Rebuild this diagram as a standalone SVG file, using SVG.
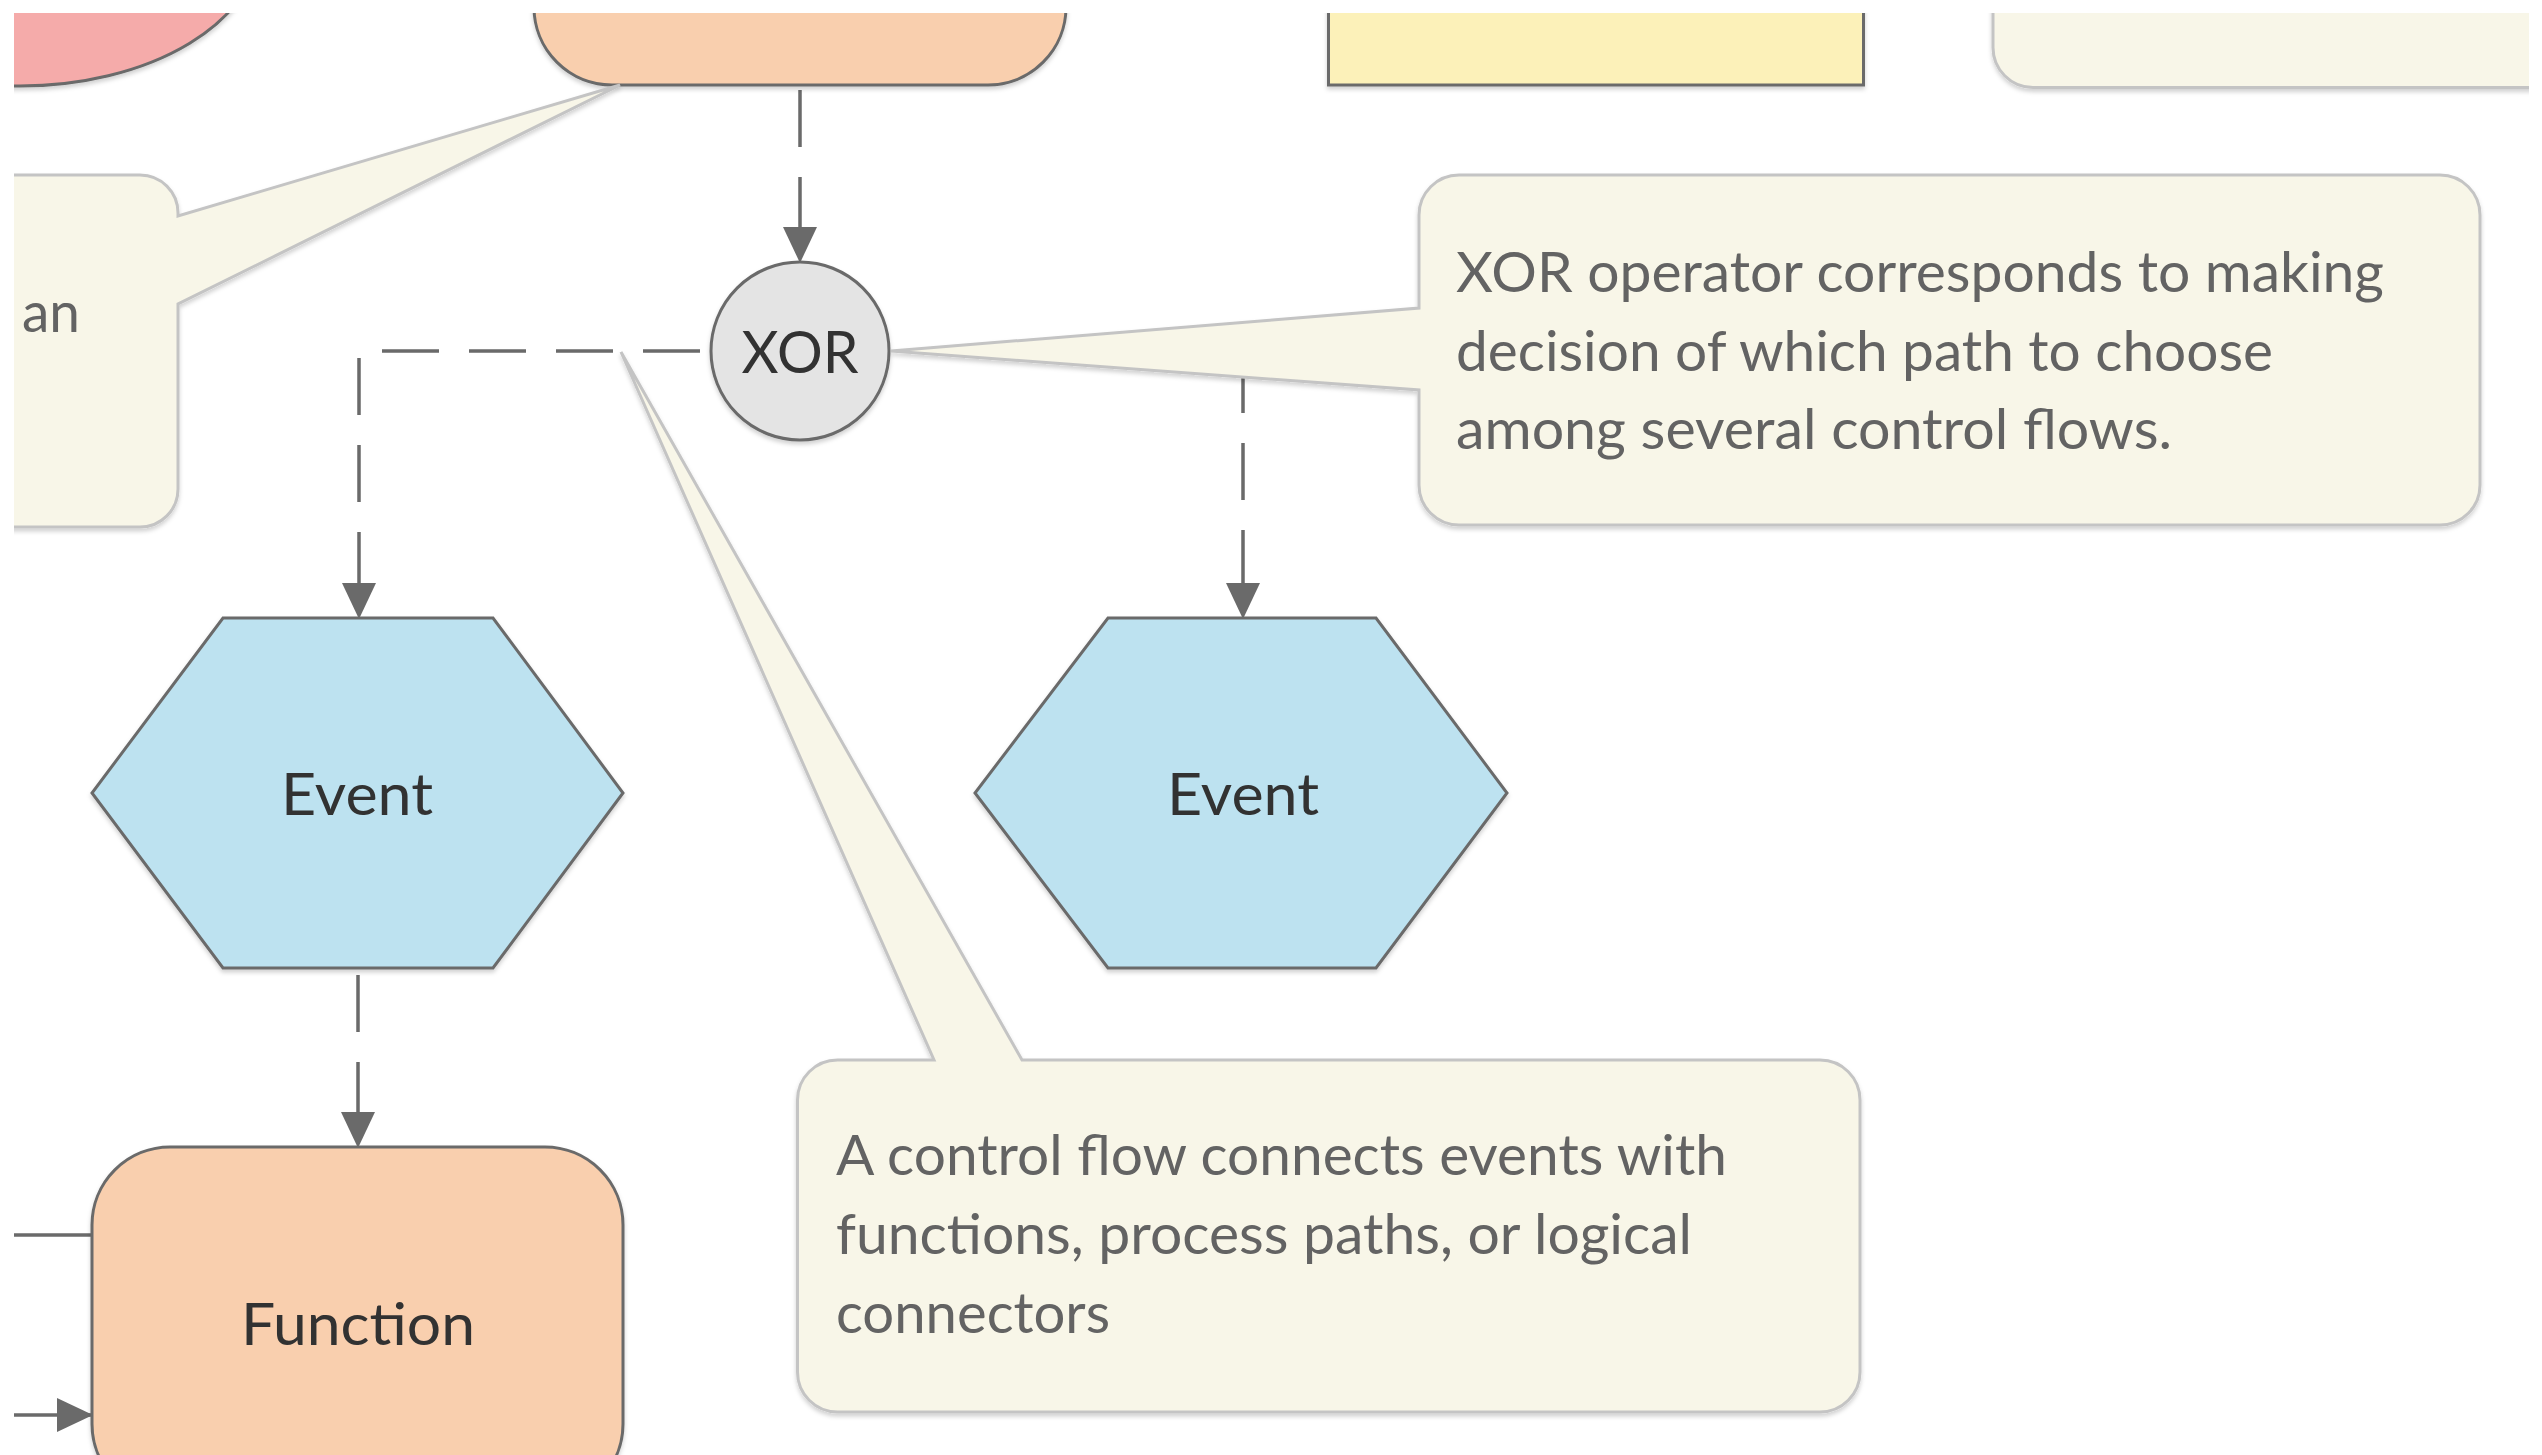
<svg xmlns="http://www.w3.org/2000/svg" width="2542" height="1455" viewBox="0 0 2542 1455">
  <style>
    .node { stroke: #6a6a6a; stroke-width: 3; }
    .fn { fill: #f9cfae; }
    .ev { fill: #bde2f0; }
    .xor { fill: #e4e4e4; }
    .note { fill: #f8f6e8; stroke: #c4c4c4; stroke-width: 3; }
    .lbl { font-family: Lato, "Liberation Sans", sans-serif; font-size: 59px; fill: #333333; text-anchor: middle; }
    .ntxt { font-family: Lato, "Liberation Sans", sans-serif; font-size: 56px; fill: #636363; }
    .flow { fill: none; stroke: #6a6a6a; stroke-width: 3.5; stroke-dasharray: 57 30; }
    .solid { fill: none; stroke: #6a6a6a; stroke-width: 3.5; }
  </style>
  <defs>
    <clipPath id="frame">
      <rect x="14" y="13" width="2515" height="1442"/>
    </clipPath>
    <filter id="sh" x="-10%" y="-10%" width="120%" height="130%">
      <feDropShadow dx="0" dy="3" stdDeviation="2" flood-color="#000000" flood-opacity="0.18"/>
    </filter>
    <marker id="arr" markerUnits="userSpaceOnUse" markerWidth="36" markerHeight="34" refX="35" refY="17" orient="auto">
      <path d="M0,0 L36,17 L0,34 Z" fill="#6a6a6a"/>
    </marker>
  </defs>
  <rect x="0" y="0" width="2542" height="1455" fill="#ffffff"/>
  <g clip-path="url(#frame)">
    <g id="connectors">
      <path class="flow" d="M800,85 V262" stroke-dashoffset="82" marker-end="url(#arr)"/>
      <path class="flow" d="M709,351 H359 V618" stroke-dashoffset="78" marker-end="url(#arr)"/>
      <path class="flow" d="M891,351 H1243 V618" stroke-dashoffset="78" marker-end="url(#arr)"/>
      <path class="flow" d="M358,968 V1147" stroke-dashoffset="80" marker-end="url(#arr)"/>
      <path class="solid" d="M0,1235 H92"/>
      <path class="solid" d="M0,1415 H92" marker-end="url(#arr)"/>
    </g>
    <g id="start-event" filter="url(#sh)">
      <ellipse class="node" cx="20" cy="-60" rx="240" ry="146" fill="#f5abaa"/>
    </g>
    <g id="function-top" filter="url(#sh)">
      <rect class="node fn" x="534" y="-270" width="532" height="355" rx="78" ry="78"/>
    </g>
    <g id="yellow-box" filter="url(#sh)">
      <rect class="node" x="1328.5" y="-100" width="535" height="185" fill="#fcf1b9"/>
    </g>
    <g id="note-top-right" filter="url(#sh)">
      <rect class="note" x="1993" y="-300" width="700" height="387.5" rx="40" ry="40"/>
    </g>
    <g id="xor" filter="url(#sh)">
      <circle class="node xor" cx="800" cy="351" r="89"/>
      <text class="lbl" x="800" y="373" textLength="117" lengthAdjust="spacingAndGlyphs">XOR</text>
    </g>
    <g id="event-left" filter="url(#sh)">
      <polygon class="node ev" points="223,618 493,618 623,793 493,968 223,968 92,793"/>
      <text class="lbl" x="357" y="815" textLength="152" lengthAdjust="spacingAndGlyphs">Event</text>
    </g>
    <g id="event-right" filter="url(#sh)">
      <polygon class="node ev" points="1108,618 1376,618 1507,793 1376,968 1108,968 975,793"/>
      <text class="lbl" x="1243" y="815" textLength="152" lengthAdjust="spacingAndGlyphs">Event</text>
    </g>
    <g id="function-bottom" filter="url(#sh)">
      <rect class="node fn" x="92" y="1147" width="531" height="355" rx="78" ry="78"/>
      <text class="lbl" x="358" y="1345" textLength="234" lengthAdjust="spacingAndGlyphs">Function</text>
    </g>
    <g id="note-left" filter="url(#sh)">
      <path class="note" d="M-200,175 H140 A38,38 0 0 1 178,213 V216 L620,85 L178,304 V489 A38,38 0 0 1 140,527 H-200 Z"/>
      <text class="ntxt" x="22" y="332" textLength="58" lengthAdjust="spacingAndGlyphs">an</text>
    </g>
    <g id="note-xor" filter="url(#sh)">
      <path class="note" d="M1459,175 H2440 A40,40 0 0 1 2480,215 V485 A40,40 0 0 1 2440,525 H1459 A40,40 0 0 1 1419,485 V390 L891,351 L1419,308 V215 A40,40 0 0 1 1459,175 Z"/>
      <text class="ntxt" x="1456" y="292" textLength="928" lengthAdjust="spacingAndGlyphs">XOR operator corresponds to making</text>
      <text class="ntxt" x="1456" y="371" textLength="817" lengthAdjust="spacingAndGlyphs">decision of which path to choose</text>
      <text class="ntxt" x="1456" y="449" textLength="716" lengthAdjust="spacingAndGlyphs">among several control flows.</text>
    </g>
    <g id="note-control-flow" filter="url(#sh)">
      <path class="note" d="M837.5,1060 H934 L621,352 L1022,1060 H1820 A40,40 0 0 1 1860,1100 V1372 A40,40 0 0 1 1820,1412 H837.5 A40,40 0 0 1 797.5,1372 V1100 A40,40 0 0 1 837.5,1060 Z"/>
      <text class="ntxt" x="836" y="1175" textLength="891" lengthAdjust="spacingAndGlyphs">A control flow connects events with</text>
      <text class="ntxt" x="836" y="1254" textLength="856" lengthAdjust="spacingAndGlyphs">functions, process paths, or logical</text>
      <text class="ntxt" x="836" y="1333" textLength="274" lengthAdjust="spacingAndGlyphs">connectors</text>
    </g>
  </g>
</svg>
